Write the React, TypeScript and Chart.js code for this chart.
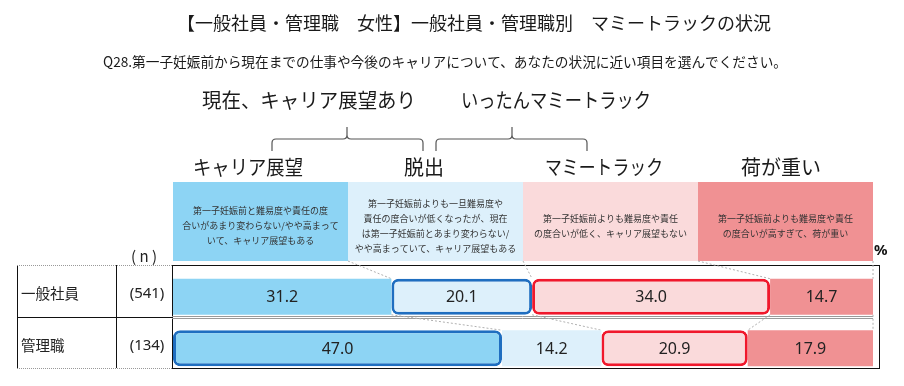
import React, { useEffect, useRef } from 'react';
import { Chart, registerables } from 'chart.js';

Chart.register(...registerables);

// ---- data ----
const rowLabels = ['一般社員', '管理職'];
const rowN = ['(541)', '(134)'];
const seriesNames = ['キャリア展望', '脱出', 'マミートラック', '荷が重い'];
const careerVals = [31.2, 47.0];
const escapeVals = [20.1, 14.2];
const mommyVals = [34.0, 20.9];
const heavyVals = [14.7, 17.9];
const seriesColors = ['#8DD4F4', '#DDF0FB', '#FADADB', '#F09193'];
// which cells are outlined: 'b' blue, 'r' red, '' none
const outlineCareer = ['', 'b'];
const outlineEscape = ['b', ''];
const outlineMommy = ['r', 'r'];
const outlineHeavy = ['', ''];

const titleText = '【一般社員・管理職　女性】一般社員・管理職別　マミートラックの状況';
const questionText = 'Q28.第一子妊娠前から現在までの仕事や今後のキャリアについて、あなたの状況に近い項目を選んでください。';
const groupLabels = ['現在、キャリア展望あり', 'いったんマミートラック'];
const descCareer = ['第一子妊娠前と難易度や責任の度', '合いがあまり変わらない/やや高まって', 'いて、キャリア展望もある'];
const descEscape = ['第一子妊娠前よりも一旦難易度や', '責任の度合いが低くなったが、現在', 'は第一子妊娠前とあまり変わらない/', 'やや高まっていて、キャリア展望もある'];
const descMommy = ['第一子妊娠前よりも難易度や責任', 'の度合いが低く、キャリア展望もない'];
const descHeavy = ['第一子妊娠前よりも難易度や責任', 'の度合いが高すぎて、荷が重い'];

const JP = '"Noto Sans CJK JP", "Noto Sans", sans-serif';
const BLUE = '#1F6EC0';
const RED = '#F0182C';

const allVals = [careerVals, escapeVals, mommyVals, heavyVals];
const allOutlines = [outlineCareer, outlineEscape, outlineMommy, outlineHeavy];
const allDesc = [descCareer, descEscape, descMommy, descHeavy];

function drawBrace(ctx: CanvasRenderingContext2D, x1: number, x2: number, tip: number, yEnd: number, yMid: number, yTip: number) {
  const r = 4;
  ctx.beginPath();
  ctx.moveTo(x1, yEnd);
  ctx.lineTo(x1, yMid + r);
  ctx.quadraticCurveTo(x1, yMid, x1 + r, yMid);
  ctx.lineTo(tip - r, yMid);
  ctx.quadraticCurveTo(tip, yMid, tip, yMid - r);
  ctx.lineTo(tip, yTip);
  ctx.moveTo(tip, yMid - r);
  ctx.quadraticCurveTo(tip, yMid, tip + r, yMid);
  ctx.lineTo(x2 - r, yMid);
  ctx.quadraticCurveTo(x2, yMid, x2, yMid + r);
  ctx.lineTo(x2, yEnd);
  ctx.stroke();
}

const overlay = {
  id: 'overlay',
  beforeDatasetsDraw(chart: any) {
    const ctx: CanvasRenderingContext2D = chart.ctx;
    const a = chart.chartArea;
    ctx.save();
    // title
    ctx.fillStyle = '#1a1a1a';
    ctx.textBaseline = 'middle';
    ctx.textAlign = 'center';
    ctx.font = `18px ${JP}`;
    ctx.fillText(titleText, 474, 23, 594);
    ctx.textAlign = 'left';
    ctx.font = `14px ${JP}`;
    ctx.fillText(questionText, 103, 62, 684);
    // group labels
    ctx.textAlign = 'center';
    ctx.font = `20px ${JP}`;
    ctx.fillText(groupLabels[0], 309, 100, 214);
    ctx.fillText(groupLabels[1], 556, 100, 190);
    // braces
    ctx.strokeStyle = '#555';
    ctx.lineWidth = 1.2;
    drawBrace(ctx, 272, 423, 347, 151, 139, 127);
    drawBrace(ctx, 436, 587, 512, 151, 139, 127);
    // category headings
    const headX = [248, 424, 604, 781];
    const headW = [110, 44, 118, 86];
    ctx.font = `20px ${JP}`;
    seriesNames.forEach((s, i) => ctx.fillText(s, headX[i], 167, headW[i]));
    // header boxes
    const bw = (a.right - a.left) / 4;
    const boxTop = 182, boxBot = 261;
    for (let i = 0; i < 4; i++) {
      const x0 = a.left + i * bw;
      ctx.fillStyle = seriesColors[i];
      ctx.fillRect(x0, boxTop, bw, boxBot - boxTop);
      const lines = allDesc[i];
      const lh = 15;
      const cy = 226 - ((lines.length - 1) * lh) / 2;
      ctx.fillStyle = '#333';
      ctx.font = `9px ${JP}`;
      lines.forEach((t, k) => ctx.fillText(t, x0 + bw / 2, cy + k * lh, bw - 12));
    }
    // percent sign
    ctx.fillStyle = '#111';
    ctx.textAlign = 'left';
    ctx.font = `bold 15px "Noto Sans", sans-serif`;
    ctx.fillText('%', 874, 251);

    // table
    const L = 17, C1 = 116, C2 = 172, R = 879, T = 265, M = 317, B = 368;
    ctx.textAlign = 'center';
    ctx.fillStyle = '#222';
    ctx.font = `15px ${JP}`;
    ctx.fillText('( n )', 144, 256);
    ctx.strokeStyle = '#111';
    ctx.lineWidth = 1;
    ctx.beginPath();
    [L, C1, C2].forEach((x) => { ctx.moveTo(x + 0.5, T); ctx.lineTo(x + 0.5, B); });
    ctx.moveTo(R + 0.5, T); ctx.lineTo(R + 0.5, B);
    ctx.moveTo(L, M + 0.5); ctx.lineTo(C2, M + 0.5);
    ctx.moveTo(C2, B + 0.5); ctx.lineTo(R + 1, B + 0.5);
    ctx.moveTo(C2, T + 0.5); ctx.lineTo(R + 1, T + 0.5);
    ctx.stroke();
    ctx.strokeStyle = '#999';
    ctx.setLineDash([1, 1]);
    ctx.beginPath();
    ctx.moveTo(L, T + 0.5); ctx.lineTo(C2, T + 0.5);
    ctx.moveTo(L, B + 0.5); ctx.lineTo(C2, B + 0.5);
    ctx.stroke();
    ctx.setLineDash([]);
    ctx.strokeStyle = '#9a9a9a';
    ctx.beginPath();
    ctx.moveTo(C2, M - 0.5); ctx.lineTo(a.right, M - 0.5);
    ctx.moveTo(C2, M + 1.5); ctx.lineTo(a.right, M + 1.5);
    ctx.stroke();

    // row labels
    const meta0 = chart.getDatasetMeta(0);
    rowLabels.forEach((lab, r) => {
      const y = meta0.data[r].y - 3;
      ctx.fillStyle = '#222';
      ctx.textAlign = 'left';
      ctx.font = `14.5px ${JP}`;
      ctx.fillText(lab, 21, y);
      ctx.textAlign = 'center';
      ctx.font = `15px "Noto Sans", sans-serif`;
      ctx.fillText(rowN[r], 147, y);
    });

    // dotted connectors
    const xs = chart.scales.x;
    ctx.strokeStyle = '#b0b0b0';
    ctx.setLineDash([2, 2]);
    ctx.lineWidth = 1;
    const cum = (r: number, k: number) => {
      let s = 0;
      for (let j = 0; j <= k; j++) s += allVals[j][r];
      return s;
    };
    ctx.beginPath();
    for (let k = 0; k < 4; k++) {
      const el0 = chart.getDatasetMeta(k).data[0];
      const el1 = chart.getDatasetMeta(k).data[1];
      const hx = a.left + (k + 1) * bw;
      const x0 = xs.getPixelForValue(cum(0, k));
      const x1 = xs.getPixelForValue(cum(1, k));
      ctx.moveTo(hx, boxBot);
      ctx.lineTo(x0, el0.y - el0.height / 2);
      ctx.moveTo(x0, el0.y + el0.height / 2);
      ctx.lineTo(x1, el1.y - el1.height / 2);
    }
    ctx.stroke();
    ctx.setLineDash([]);
    ctx.restore();
  },
  afterDatasetsDraw(chart: any) {
    const ctx: CanvasRenderingContext2D = chart.ctx;
    ctx.save();
    ctx.fillStyle = '#222';
    ctx.textAlign = 'center';
    ctx.textBaseline = 'middle';
    ctx.font = `16px "Noto Sans", sans-serif`;
    chart.data.datasets.forEach((ds: any, i: number) => {
      const meta = chart.getDatasetMeta(i);
      meta.data.forEach((el: any, j: number) => {
        const v = ds.data[j];
        ctx.fillText(v.toFixed(1), (el.x + el.base) / 2, el.y + 1);
      });
    });
    ctx.restore();
  },
};

export default function App() {
  const ref = useRef<HTMLCanvasElement>(null);
  useEffect(() => {
    const canvas = ref.current;
    if (!canvas) return;
    const datasets = seriesNames.map((name, i) => ({
      label: name,
      data: allVals[i],
      backgroundColor: seriesColors[i],
      borderColor: allOutlines[i].map((o) => (o === 'b' ? BLUE : o === 'r' ? RED : seriesColors[i])),
      borderWidth: allOutlines[i].map((o) => (o ? 3 : 0)),
      borderRadius: (c: any) =>
        allOutlines[i][c.dataIndex]
          ? { topLeft: 7, topRight: 7, bottomLeft: 7, bottomRight: 7 }
          : { topLeft: 0, topRight: 0, bottomLeft: 0, bottomRight: 0 },
      borderSkipped: false as const,
      barPercentage: 0.7,
      categoryPercentage: 1,
    }));
    const chart = new Chart(canvas, {
      type: 'bar',
      data: { labels: rowLabels, datasets },
      options: {
        indexAxis: 'y',
        responsive: false,
        maintainAspectRatio: false,
        animation: false,
        devicePixelRatio: 1,
        layout: { padding: { left: 173, right: 31, top: 271, bottom: 12 } },
        scales: {
          x: { stacked: true, min: 0, max: 100, display: false },
          y: { stacked: true, display: false },
        },
        plugins: { legend: { display: false }, tooltip: { enabled: false }, title: { display: false } },
      },
      plugins: [overlay],
    });
    return () => chart.destroy();
  }, []);
  return (
    <div style={{ position: 'absolute', left: 0, top: 0, width: 904, height: 386, background: '#fff' }}>
      <canvas ref={ref} width={904} height={386} style={{ display: 'block', width: 904, height: 386 }} />
    </div>
  );
}
